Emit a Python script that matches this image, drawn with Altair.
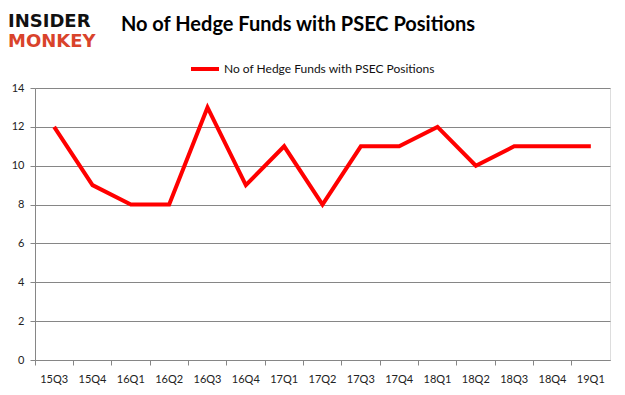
import altair as alt
import pandas as pd

quarters = ["15Q3", "15Q4", "16Q1", "16Q2", "16Q3", "16Q4", "17Q1", "17Q2",
            "17Q3", "17Q4", "18Q1", "18Q2", "18Q3", "18Q4", "19Q1"]
funds = [12, 9, 8, 8, 13, 9, 11, 8, 11, 11, 12, 10, 11, 11, 11]
series_name = "No of Hedge Funds with PSEC Positions"
title_text = "No of Hedge Funds with PSEC Positions"
logo_top = "INSIDER"
logo_bottom = "MONKEY"
y_ticks = [0, 2, 4, 6, 8, 10, 12, 14]

df = pd.DataFrame({"quarter": quarters, "funds": funds, "series": [series_name] * len(quarters)})

line = alt.Chart(df).mark_line(strokeWidth=4).encode(
    x=alt.X("quarter:N", sort=quarters, title=None,
            scale=alt.Scale(type="band", paddingInner=0, paddingOuter=0),
            axis=alt.Axis(bandPosition=0, labelAngle=0, labelPadding=8, tickSize=5,
                          domainColor="#868686", tickColor="#868686", grid=False,
                          labelColor="#222222", labelFont="Lato", labelFontSize=11)),
    y=alt.Y("funds:Q", title=None,
            scale=alt.Scale(domain=[0, 14], nice=False),
            axis=alt.Axis(values=y_ticks, tickSize=5, labelPadding=6,
                          domainColor="#868686", tickColor="#868686",
                          gridColor="#868686", gridWidth=1,
                          labelColor="#222222", labelFont="Lato", labelFontSize=11)),
    color=alt.Color("series:N", scale=alt.Scale(domain=[series_name], range=["#FF0000"]),
                    legend=alt.Legend(title=None, orient="none", legendX=154, legendY=-35,
                                      symbolType="stroke", symbolStrokeWidth=4,
                                      symbolSize=784, labelFont="Lato", labelFontSize=12,
                                      labelColor="#111111", labelLimit=400, labelOffset=3)),
)

title = alt.Chart(pd.DataFrame({"t": [title_text]})).mark_text(
    font="Lato", fontSize=20, fontWeight="bold", color="#000000", align="center", baseline="middle"
).encode(text="t:N", x=alt.value(263), y=alt.value(-63))

logo1 = alt.Chart(pd.DataFrame({"t": [logo_top]})).mark_text(
    font="DejaVu Sans", fontSize=18, fontWeight="bold", color="#111111", align="left", baseline="middle"
).encode(text="t:N", x=alt.value(-27), y=alt.value(-66))

logo2 = alt.Chart(pd.DataFrame({"t": [logo_bottom]})).mark_text(
    font="DejaVu Sans", fontSize=18, fontWeight="bold", color="#D9432B", align="left", baseline="middle"
).encode(text="t:N", x=alt.value(-27), y=alt.value(-46))

chart = alt.layer(line, title, logo1, logo2).properties(
    width=575, height=272,
    autosize=alt.AutoSizeParams(type="none"),
    padding={"left": 27, "top": 80, "right": 7, "bottom": 27},
).configure_view(stroke=None).configure(background="white")

chart.save("out.html", embed_options={"renderer": "svg", "actions": False})
